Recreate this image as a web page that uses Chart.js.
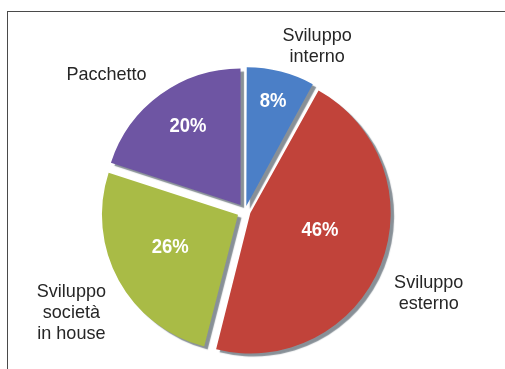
<!DOCTYPE html>
<html>
<head>
<meta charset="utf-8">
<script src="https://cdn.jsdelivr.net/npm/chart.js@4/dist/chart.umd.min.js"></script>
<style>
  html, body { margin: 0; padding: 0; background: #fff; }
  .wrap { position: relative; width: 505px; height: 369px; overflow: hidden; }
  .frame { position: absolute; left: 7px; top: 11px; width: 600px; height: 400px;
           border: 1.5px solid #4a4a4a; box-sizing: border-box; }
  #myChart { position: absolute; left: 0; top: 0; }
</style>
</head>
<body>
<div class="wrap">
  <div class="frame"></div>
  <canvas id="myChart" width="505" height="369"></canvas>
</div>
<script>
// categories (one array of lines per slice) and shares in %
const categories = [
  ["Sviluppo", "interno"],
  ["Sviluppo", "esterno"],
  ["Sviluppo", "società", "in house"],
  ["Pacchetto"],
];
const shares = [8, 46, 26, 20];
const sliceColors = ["#4b7fc7", "#c1433a", "#a9bb46", "#6e55a3"];

// where the text sits, relative to each slice (radius factor, angle shift in deg)
const pctRadius = [0.83, 0.57, 0.61, 0.75];
const pctShift = [0, -7, 3, 2];
const nameRadius = [1.32, 1.48, 1.48, 1.43];
const nameShift = [9.3, 2.5, -1.6, -9.4];
// arc offsets so every slice is pulled out about the same distance
const sliceOffset = [21, 23, 32, 30];

const FONT = "'Liberation Sans', Arial, sans-serif";

// grey rim under the slices
const rimShadow = {
  id: "rimShadow",
  beforeDatasetsDraw(chart) {
    const ctx = chart.ctx;
    ctx.save();
    ctx.shadowColor = "rgba(115,124,133,0.85)";
    ctx.shadowOffsetX = 3.5;
    ctx.shadowOffsetY = 3;
    ctx.shadowBlur = 1;
  },
  afterDatasetsDraw(chart) {
    chart.ctx.restore();
  },
};

// draw text squeezed horizontally, like a condensed face
function condensedText(ctx, text, x, y, squeeze) {
  ctx.save();
  ctx.translate(x, y);
  ctx.scale(squeeze, 1);
  ctx.fillText(text, 0, 0);
  ctx.restore();
}

// percentages inside, names outside
const sliceText = {
  id: "sliceText",
  afterDraw(chart) {
    const ctx = chart.ctx;
    const meta = chart.getDatasetMeta(0);
    ctx.save();
    ctx.textAlign = "center";
    ctx.textBaseline = "middle";
    meta.data.forEach((arc, i) => {
      const p = arc.getProps(["x", "y", "startAngle", "endAngle", "outerRadius"], true);
      const mid = (p.startAngle + p.endAngle) / 2;

      let a = mid + pctShift[i] * Math.PI / 180;
      let r = p.outerRadius * pctRadius[i];
      ctx.fillStyle = "#ffffff";
      ctx.font = "bold 21px " + FONT;
      condensedText(ctx, shares[i] + "%", p.x + Math.cos(a) * r, p.y + Math.sin(a) * r, 0.88);

      a = mid + nameShift[i] * Math.PI / 180;
      r = p.outerRadius * nameRadius[i];
      const lines = categories[i];
      const lh = 21;
      const cx = p.x + Math.cos(a) * r;
      const cy = p.y + Math.sin(a) * r - (lines.length - 1) * lh / 2;
      ctx.fillStyle = "#262626";
      ctx.font = "19px " + FONT;
      lines.forEach((t, k) => condensedText(ctx, t, cx, cy + k * lh, 0.95));
    });
    ctx.restore();
  },
};

var ctx = document.getElementById("myChart").getContext("2d");
var myChart = new Chart(ctx, {
  type: "pie",
  data: {
    labels: categories,
    datasets: [
      {
        data: shares,
        backgroundColor: sliceColors,
        borderColor: "#ffffff",
        borderWidth: 0,
        offset: sliceOffset,
        radius: 136,
      },
    ],
  },
  options: {
    responsive: false,
    animation: false,
    layout: { padding: { left: 0, right: 15, top: 53, bottom: 0 } },
    plugins: {
      legend: { display: false },
      tooltip: { enabled: false },
    },
  },
  plugins: [rimShadow, sliceText],
});
</script>
</body>
</html>
